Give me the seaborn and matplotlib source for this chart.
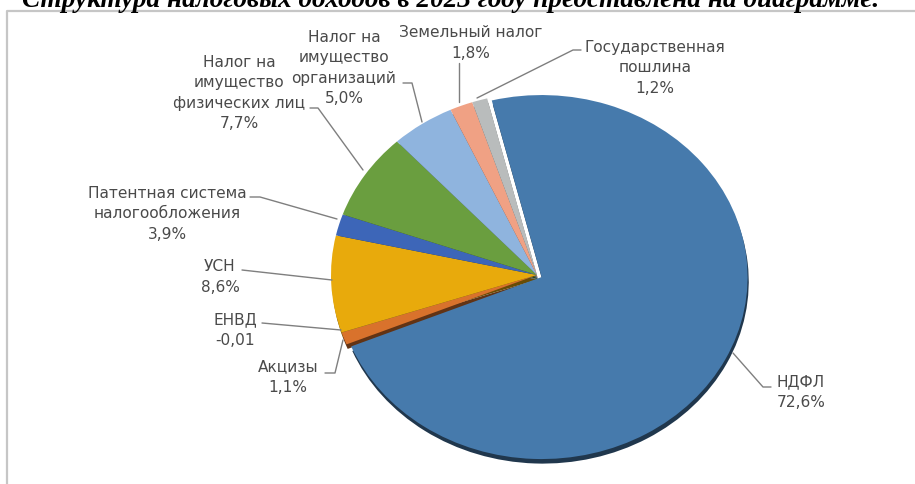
import matplotlib
matplotlib.use('Agg')
import matplotlib.pyplot as plt
import seaborn as sns

sns.set_theme(style='white')
plt.rcParams['font.family'] = ['DejaVu Sans']

W, H = 915, 484

title = 'Структура налоговых доходов в 2023 году представлена на диаграмме.'

# clockwise from the top, as the slices are drawn in the picture
names = ['НДФЛ', 'Акцизы', 'ЕНВД', 'УСН', 'Патентная система\nналогообложения',
         'Налог на\nимущество\nфизических лиц', 'Налог на\nимущество\nорганизаций',
         'Земельный налог', 'Государственная\nпошлина']
shares = [72.6, 1.1, 0.01, 8.6, 1.9, 7.7, 5.0, 1.8, 1.2]
share_labels = ['72,6%', '1,1%', '-0,01', '8,6%', '3,9%', '7,7%', '5,0%', '1,8%', '1,2%']
colors = ['#467aac', '#d9722c', '#9a9a9a', '#e8aa0c', '#3d66b8',
          '#6a9e3f', '#8fb4de', '#f0a184', '#b9bcbc']


def px(x, y):
  # picture pixels to figure fractions
  return x / W, 1 - y / H


def fig_line(points, color, width):
  fig.add_artist(plt.Line2D([px(*p)[0] for p in points], [px(*p)[1] for p in points],
                            color=color, linewidth=width, transform=fig.transFigure))


fig = plt.figure(figsize=(W / 100, H / 100), dpi=100)

# chart frame, only top and left show
fig_line([(7, 484), (7, 11), (915, 11)], '#c6c6c6', 1.6)

fig.text(*px(451, 7), title, ha='center', va='baseline', family='Liberation Serif',
         style='italic', weight='bold', fontsize=19.6, color='black')

# axes fit the ellipse of the pie, radius 1
cx, cy, rx, ry = 537, 275, 206, 182
ax = fig.add_axes([(cx - rx) / W, 1 - (cy + ry) / H, 2 * rx / W, 2 * ry / H])
explode = [0.025] + [0] * (len(shares) - 1)
ax.pie(shares, colors=colors, startangle=104, counterclock=False, explode=explode, radius=1,
       shadow={'ox': 0.004, 'oy': -0.018, 'shade': 0.55, 'alpha': 1},
       wedgeprops={'linewidth': 0})
ax.set_aspect('auto')
ax.set_xlim(-1, 1)
ax.set_ylim(-1, 1)
ax.patch.set_alpha(0)
for patch in ax.patches:
  patch.set_clip_on(False)

# label centre, leader line points in pixels
layout = [
  ((801, 392), [(733, 353), (763, 387), (771, 387)]),
  ((288, 377), [(343, 340), (335, 373), (325, 373)]),
  ((235, 330), [(341, 330), (262, 323)]),
  ((220, 277), [(332, 280), (242, 270)]),
  ((167, 214), [(337, 219), (260, 197), (250, 197)]),
  ((239, 93),  [(363, 170), (318, 108), (310, 108)]),
  ((344, 68),  [(422, 122), (412, 83), (403, 83)]),
  ((471, 43),  [(459, 102), (459, 63)]),
  ((655, 68),  [(477, 98), (573, 50), (581, 50)]),
]

for name, label, (centre, line) in zip(names, share_labels, layout):
  fig.text(*px(*centre), name + '\n' + label, ha='center', va='center', multialignment='center',
           fontsize=11.1, color='#4a4a4a', linespacing=1.43)
  fig_line(line, '#7f7f7f', 1.0)

fig.savefig('out.png', dpi=100, facecolor='white')
